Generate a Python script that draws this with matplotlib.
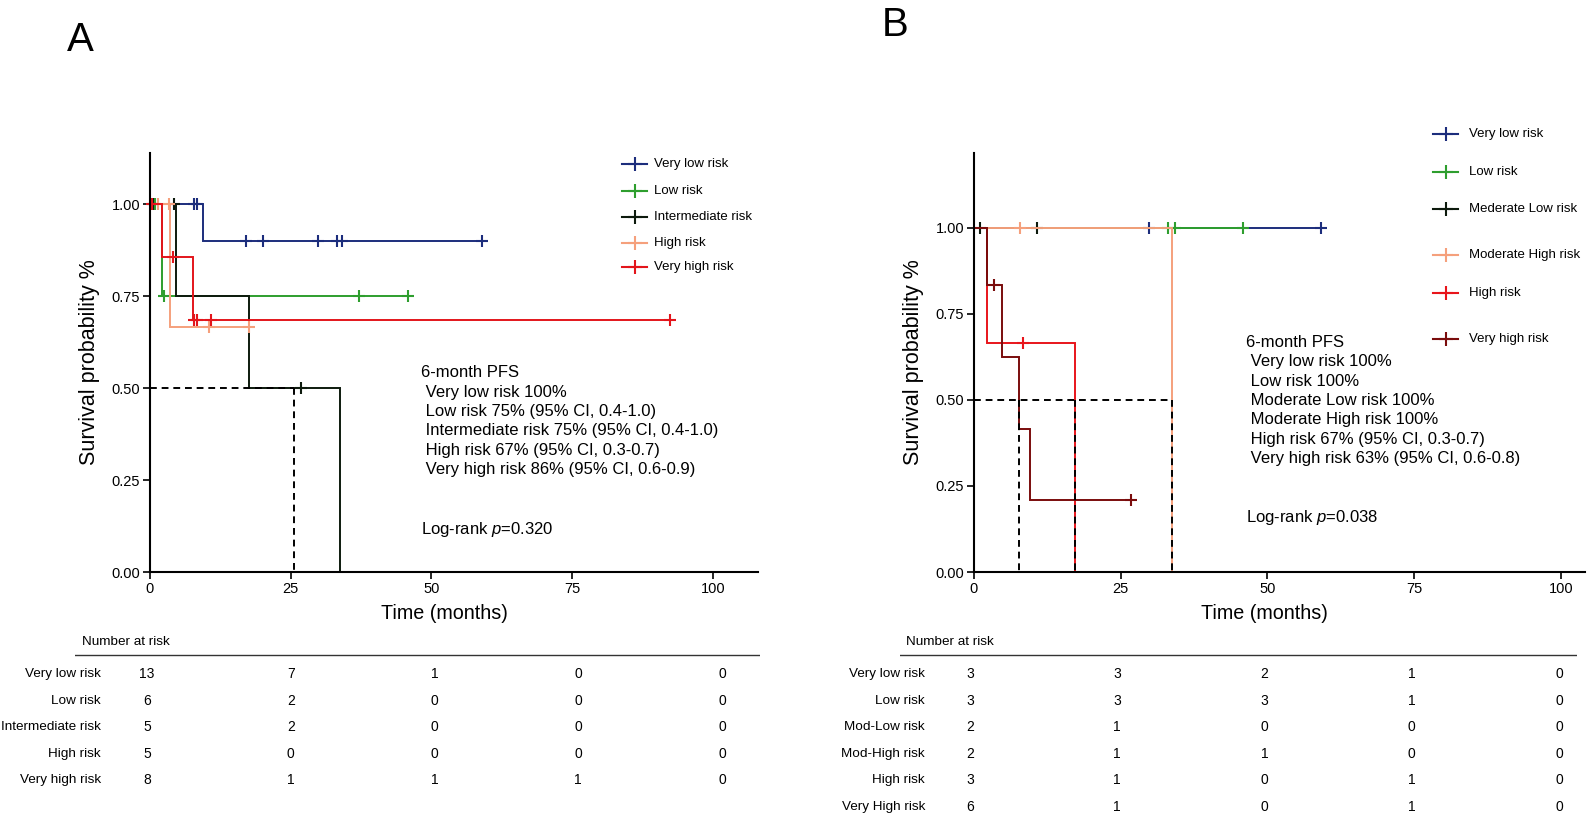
import numpy as np
import matplotlib
matplotlib.use("Agg")
import matplotlib.pyplot as plt
from matplotlib.lines import Line2D

plt.rcParams['font.family'] = ['Liberation Sans', 'DejaVu Sans']
plt.rcParams['mathtext.fontset'] = 'custom'
plt.rcParams['mathtext.rm'] = 'Liberation Sans'
plt.rcParams['mathtext.it'] = 'Liberation Sans:italic'

# ---------------- panel A data ----------------
groups_a = ["Very low risk", "Low risk", "Intermediate risk", "High risk", "Very high risk"]
colors_a = ["#1c2d7c", "#2e9e2e", "#0d1a0d", "#f5a07c", "#e3151b"]
drops_a = [[9.5], [2.2], [4.6, 17.5, 33.8], [3.6], [2.2, 7.6]]
surv_a = [[0.9], [0.75], [0.75, 0.5, 0.0], [0.667], [0.857, 0.686]]
censor_a = [[7.8, 8.3, 17.0, 20.1, 29.8, 33.2, 34.1, 59.0],
            [0.9, 2.4, 37.2, 45.8],
            [0.6, 4.2, 26.9],
            [1.5, 3.4, 10.5, 17.6],
            [0.3, 4.0, 7.8, 8.4, 10.8, 92.4]]
pfs_a = ["Very low risk 100%",
         "Low risk 75% (95% CI, 0.4-1.0)",
         "Intermediate risk 75% (95% CI, 0.4-1.0)",
         "High risk 67% (95% CI, 0.3-0.7)",
         "Very high risk 86% (95% CI, 0.6-0.9)"]
pval_a = "0.320"
risk_times = [0, 25, 50, 75, 100]
table_labels_a = ["Very low risk", "Low risk", "Intermediate risk", "High risk", "Very high risk"]
at_risk_a = [[13, 7, 1, 0, 0],
             [6, 2, 0, 0, 0],
             [5, 2, 0, 0, 0],
             [5, 0, 0, 0, 0],
             [8, 1, 1, 1, 0]]

# ---------------- panel B data ----------------
groups_b = ["Very low risk", "Low risk", "Mederate Low risk", "Moderate High risk",
            "High risk", "Very high risk"]
colors_b = ["#1c2d7c", "#2e9e2e", "#0d1a0d", "#f5a07c", "#e8151b", "#7a0c0c"]
drops_b = [[], [], [], [33.8], [2.3, 17.2], [2.3, 4.7, 7.6, 9.6]]
surv_b = [[], [], [], [0.0], [0.667, 0.0], [0.833, 0.625, 0.417, 0.208]]
censor_b = [[29.8, 59.1],
            [33.1, 34.2, 45.9],
            [1.0, 10.8],
            [7.9],
            [8.4],
            [3.4, 26.8]]
pfs_b = ["Very low risk 100%",
         "Low risk 100%",
         "Moderate Low risk 100%",
         "Moderate High risk 100%",
         "High risk 67% (95% CI, 0.3-0.7)",
         "Very high risk 63% (95% CI, 0.6-0.8)"]
pval_b = "0.038"
table_labels_b = ["Very low risk", "Low risk", "Mod-Low risk", "Mod-High risk",
                  "High risk", "Very High risk"]
at_risk_b = [[3, 3, 2, 1, 0],
             [3, 3, 3, 1, 0],
             [2, 1, 0, 0, 0],
             [2, 1, 1, 0, 0],
             [3, 1, 0, 1, 0],
             [6, 1, 0, 1, 0]]

W, H = 1588, 818
fig = plt.figure(figsize=(W / 100, H / 100), dpi=100)


def fx(px):
    return px / W


def fy(py):
    return 1 - py / H


def median_time(drops, surv):
    for i, (t, s) in enumerate(zip(drops, surv)):
        if s < 0.5:
            return t
        if s == 0.5:
            return (t + drops[i + 1]) / 2 if i + 1 < len(drops) else t
    return None


def km_panel(ax, drops, surv, censors, colors, xmax, ymax, xlab_pos):
    medians = []
    for d, s, c, col in zip(drops, surv, censors, colors):
        end = max(c + d)
        x = [0] + d + [end]
        y = [1.0] + s + [s[-1] if s else 1.0]
        ax.step(x, y, where='post', color=col, lw=1.4, solid_joinstyle='miter')
        # censored points sit on the curve level at their time
        levels = np.array([1.0] + s)
        cy = levels[np.searchsorted(d, c, side='right')]
        ax.plot(c, cy, ls='none', marker='+', ms=8, mew=1.5, color=col, clip_on=False)
        m = median_time(d, s)
        if m is not None:
            medians.append(m)
    if medians:
        ax.plot([0, max(medians)], [0.5, 0.5], color='black', lw=1.4, ls=(0, (3.5, 2.5)))
        for m in medians:
            ax.plot([m, m], [0.5, 0], color='black', lw=1.4, ls=(0, (3.5, 2.5)))
    ax.set_xlim(0, xmax)
    ax.set_ylim(0, ymax)
    ax.set_xticks([0, 25, 50, 75, 100])
    ax.set_yticks([0, 0.25, 0.5, 0.75, 1.0])
    ax.set_yticklabels(["0.00", "0.25", "0.50", "0.75", "1.00"])
    for sp in ['top', 'right']:
        ax.spines[sp].set_visible(False)
    for sp in ['left', 'bottom']:
        ax.spines[sp].set_linewidth(1.5)
    ax.tick_params(length=5, width=1.2, labelsize=10.5, pad=2)
    ax.set_xlabel("Time (months)", fontsize=14.2, labelpad=6)
    ax.xaxis.label.set_x(xlab_pos)
    ax.set_ylabel("Survival probability %", fontsize=15.5, labelpad=8)


def pfs_text(ax, x, y0, step, lines, pval, y_p):
    ax.text(x, y0, "6-month PFS", fontsize=12, va='center', ha='left')
    for i, ln in enumerate(lines):
        ax.text(x, y0 - step * (i + 1), " " + ln, fontsize=12, va='center', ha='left')
    ax.text(x, y_p, "Log-rank $p$=" + pval, fontsize=12, va='center', ha='left')


def legend(labels, colors, x0, x1, xt, ys):
    for lab, col, y in zip(labels, colors, ys):
        fig.add_artist(Line2D([fx(x0), fx((x0 + x1) / 2), fx(x1)], [fy(y)] * 3,
                              transform=fig.transFigure, color=col, lw=1.5,
                              marker='+', markevery=[1], ms=10, mew=1.5))
        fig.text(fx(xt), fy(y), lab, va='center', ha='left', fontsize=9.5)


def risk_table(left, right, t0px, pxpm, label_px, header_px, labels, counts):
    tx0 = (left - t0px) / pxpm
    tx1 = (right - t0px) / pxpm
    tab = fig.add_axes([fx(left), 0, (right - left) / W, 1 - 625 / H])
    tab.set_xlim(tx0, tx1)
    tab.set_ylim(H, 625)
    tab.axis('off')
    tab.text((header_px - t0px) / pxpm, 642, "Number at risk", fontsize=9.7, ha='left', va='center')
    tab.plot([tx0, tx1], [655, 655], color='#333333', lw=1)
    xl = (label_px - t0px) / pxpm
    for i, (lab, row) in enumerate(zip(labels, counts)):
        yy = 674 + 26.6 * i
        tab.text(xl, yy, lab, fontsize=9.7, ha='right', va='center')
        for t, n in zip(risk_times, row):
            tab.text(t, yy, str(n), fontsize=10, ha='center', va='center')


# panel A
ax_a = fig.add_axes([fx(150), fy(572), (758 - 150) / W, (572 - 153) / H])
km_panel(ax_a, drops_a, surv_a, censor_a, colors_a, 108, 1.139, 0.484)
pfs_text(ax_a, 48.1, 0.542, 0.0528, pfs_a, pval_a, 0.116)
legend(groups_a, colors_a, 622, 647, 654, [164, 191, 217, 243, 267])
risk_table(75, 760, 147, 5.75, 101, 82, table_labels_a, at_risk_a)
fig.text(fx(80), fy(40), "A", fontsize=29, ha='center', va='center')

# panel B
ax_b = fig.add_axes([fx(974), fy(572), (1585 - 974) / W, (572 - 153) / H])
km_panel(ax_b, drops_b, surv_b, censor_b, colors_b, 104.1, 1.218, 0.475)
pfs_text(ax_b, 46.4, 0.668, 0.0564, pfs_b, pval_b, 0.157)
legend(groups_b, colors_b, 1433, 1458, 1469, [134, 172, 209, 255, 293, 339])
risk_table(900, 1577, 970, 5.89, 925, 906, table_labels_b, at_risk_b)
fig.text(fx(895), fy(25), "B", fontsize=29, ha='center', va='center')

fig.savefig("out.png", dpi=100)
